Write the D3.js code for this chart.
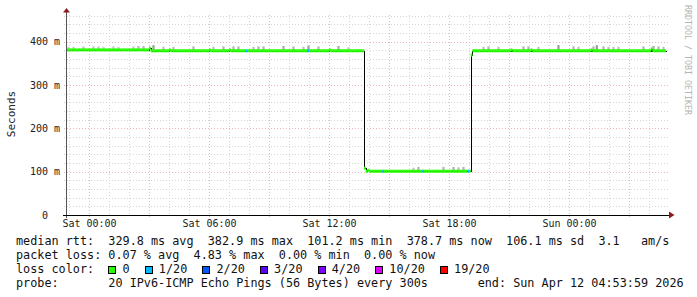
<!DOCTYPE html>
<html><head><meta charset="utf-8">
<script src="https://cdn.jsdelivr.net/npm/d3@7"></script>
<style>
html,body{margin:0;padding:0;background:#fff;}
svg{display:block;}
text{font-family:"DejaVu Sans Mono",monospace;}
</style></head><body>
<svg id="chart" width="697" height="297"></svg>
<script>
// ---------- data ----------
const startTime = Date.UTC(2026,3,10,22,53,59);
const endTime   = Date.UTC(2026,3,12,4,53,59);
const firstStep = Date.UTC(2026,3,10,22,50,0);
const stepMs = 300000;

// median RTT (ms) per 5-minute step, one row per hour
const median = [
381,381,381,381,381,381,381,381,381,381,381,381,
381,381,381,381,381,381,381,381,381,381,381,381,
381,381,381,381,381,381,381,381,381,381,381,381,
381,381,381,381,381,381,381,381,381,381,381,381,
381,381,385,379,379,379,379,379,379,379,379,379,
379,379,381,379,379,379,379,379,379,379,379,379,
379,379,379,379,379,379,379,379,379,379,379,379,
379,379,381,379,379,379,379,379,379,379,379,379,
379,379,381,379,379,379,379,379,379,379,379,379,
379,379,379,379,379,379,379,379,379,379,379,379,
379,379,379,379,379,379,379,379,379,379,379,379,
379,379,379,379,379,379,379,379,379,379,379,379,
379,379,379,379,379,379,379,379,379,379,379,379,
379,379,381,379,379,379,379,379,379,379,379,379,
379,379,379,379,379,379,379,379,379,379,379,108,
101,103,101,101,101,101,101,101,101,101,101,101,
101,101,101,101,101,101,101,101,101,101,101,101,
101,101,101,101,101,101,101,101,101,101,101,101,
101,101,101,101,101,101,101,101,101,101,101,101,
101,101,101,101,101,101,101,101,101,101,101,101,
101,101,101,369,379,379,379,379,379,379,379,379,
379,379,379,379,379,379,379,379,379,379,379,379,
379,379,379,381,379,379,379,379,379,379,379,379,
379,379,379,381,379,379,379,379,379,379,379,379,
379,379,379,379,379,379,379,379,379,379,379,379,
379,379,379,379,379,379,379,379,379,379,379,379,
379,379,379,381,379,379,379,379,379,379,379,379,
379,379,379,379,379,379,379,379,379,379,379,379,
379,379,379,379,379,379,379,379,379,379,379,379,
379,379,379,383,379,379,379,379,379,379,379,379
];

// steps with packet loss (step index, lost pings of 20)
const lossIndex = [108,145,190,214,241];
const lossCount = [1,1,1,1,1];

// smoke: steps where the slowest pings stick out above the median (step index, max ms)
const smokeIndex = [1,4,10,16,19,22,28,31,40,43,46,52,58,64,76,88,94,100,103,112,115,118,130,136,142,145,151,163,169,
  208,211,226,232,235,238,
  250,253,259,274,277,283,295,304,307,316,318,322,325,328,331,346,352,355,358];
const smokeMax = [388,388,389,389,389,388,389,388,389,390,390,392,388,388,389,388,389,389,389,388,389,389,390,389,388,391,389,390,387,
  109,111,111,111,110,111,
  388,389,388,389,389,388,392,389,388,389,392,389,388,388,388,389,390,389,388];

const yTicks = [0,100,200,300,400];
const yTickLabels = ["0\u00a0\u00a0","100 m","200 m","300 m","400 m"];
const xTickTimes = [Date.UTC(2026,3,11,0),Date.UTC(2026,3,11,6),Date.UTC(2026,3,11,12),Date.UTC(2026,3,11,18),Date.UTC(2026,3,12,0)];
const xTickLabels = ["Sat 00:00","Sat 06:00","Sat 12:00","Sat 18:00","Sun 00:00"];

const lossLevels = [0,1,2,3,4,10,19];
const lossLabels = ["0","1/20","2/20","3/20","4/20","10/20","19/20"];
const lossColors = ["#26ff00","#00b8ff","#0059ff","#5e00ff","#7e00ff","#dd00ff","#ff0000"];

const legendRtt  = "median rtt:  329.8 ms avg  382.9 ms max  101.2 ms min  378.7 ms now  106.1 ms sd  3.1   am/s";
const legendLoss = "packet loss: 0.07 % avg  4.83 % max  0.00 % min  0.00 % now";
const legendColorTitle = "loss color:";
const legendProbe = "probe:       20 IPv6-ICMP Echo Pings (56 Bytes) every 300s       end: Sun Apr 12 04:53:59 2026";
const yTitle = "Seconds";
const watermark = "RRDTOOL / TOBI OETIKER";

// ---------- drawing ----------
const nb = s => s.replace(/ /g,"\u00a0");
const svg = d3.select("#chart");
const L = 67, R = 667, T = 15, B = 215;
const x = d3.scaleUtc().domain([startTime,endTime]).range([L,R]);
const y = d3.scaleLinear().domain([0,461.5]).range([B,T]);

const loss = median.map(()=>0);
lossIndex.forEach((k,i)=>{loss[k]=lossCount[i];});
function lossColor(c){let col=lossColors[0];lossLevels.forEach((lv,i)=>{if(c>=lv)col=lossColors[i];});return col;}
const stepStart = k => firstStep + k*stepMs;

const defs = svg.append("defs");
defs.append("clipPath").attr("id","plot").append("rect").attr("x",L).attr("y",T-5).attr("width",R-L).attr("height",B-T+5);

// grid
const grid = svg.append("g").attr("shape-rendering","crispEdges");
const hours = x.ticks(d3.utcHour.every(1));
grid.selectAll("line.vg").data(hours).join("line")
  .attr("x1",d=>Math.round(x(d))+0.5).attr("x2",d=>Math.round(x(d))+0.5)
  .attr("y1",T).attr("y2",d=>d.getUTCHours()%3===0?B+3:B)
  .attr("stroke",d=>d.getUTCHours()%3===0?"#efb4b4":"#d6d6d6")
  .attr("stroke-dasharray","1,2");
const yGrid = d3.range(20,462,20);
grid.selectAll("line.hg").data(yGrid).join("line")
  .attr("y1",d=>Math.round(y(d))+0.5).attr("y2",d=>Math.round(y(d))+0.5)
  .attr("x1",L-3).attr("x2",R+1)
  .attr("stroke",d=>d%100===0?"#efb4b4":"#d6d6d6")
  .attr("stroke-dasharray","1,2");

const plot = svg.append("g").attr("clip-path","url(#plot)");
const stepW = x(stepStart(1))-x(stepStart(0));

// smoke
const shade = d3.scaleLinear().domain([6,13]).range(["#d6d6d6","#9c9c9c"]).clamp(true);
plot.selectAll("rect.smoke").data(smokeIndex).join("rect")
  .attr("x",k=>x(stepStart(k))).attr("width",stepW+0.6)
  .attr("y",(k,i)=>y(smokeMax[i]))
  .attr("height",(k,i)=>Math.max(0,y(median[k])-y(smokeMax[i])))
  .attr("fill",(k,i)=>shade(smokeMax[i]-median[k]));

// median step line (black)
const pts = median.map((v,k)=>[stepStart(k),v]);
pts.push([stepStart(median.length),median[median.length-1]]);
plot.append("path").datum(pts)
  .attr("d",d3.line().x(d=>Math.round(x(d[0]))+0.5).y(d=>Math.round(y(d[1]))+0.5).curve(d3.curveStepAfter))
  .attr("fill","none").attr("stroke","#000").attr("stroke-width",1).attr("shape-rendering","crispEdges");

// loss coloured median band
plot.selectAll("rect.band").data(median).join("rect")
  .attr("x",(v,k)=>x(stepStart(k))).attr("width",stepW+0.15)
  .attr("y",v=>y(v)-1.5).attr("height",3)
  .attr("fill",(v,k)=>lossColor(loss[k]));

// axes
const yAxis = d3.axisLeft(y).tickValues(yTicks).tickFormat((d,i)=>yTickLabels[i]).tickSize(0).tickPadding(7);
const gy = svg.append("g").attr("transform",`translate(${L},0)`).call(yAxis);
gy.select(".domain").remove();
gy.selectAll("text").attr("font-family","DejaVu Sans Mono").attr("font-size",10).attr("fill","#222");

const xAxis = d3.axisBottom(x).tickValues(xTickTimes).tickFormat((d,i)=>xTickLabels[i]).tickSize(0).tickPadding(5);
const gx = svg.append("g").attr("transform",`translate(0,${B})`).call(xAxis);
gx.select(".domain").remove();
gx.selectAll("text").attr("font-family","DejaVu Sans Mono").attr("font-size",10).attr("fill","#222");

svg.append("line").attr("x1",L-0.5).attr("x2",L-0.5).attr("y1",12).attr("y2",B+3).attr("stroke","#555").attr("shape-rendering","crispEdges");
svg.append("line").attr("x1",L-4).attr("x2",R+2).attr("y1",B+0.5).attr("y2",B+0.5).attr("stroke","#000").attr("shape-rendering","crispEdges");
svg.append("path").attr("d",`M${L-4},12.5L${L+3},12.5L${L-0.5},8Z`).attr("fill","#8e1b1b");
svg.append("path").attr("d",`M${R+2},211.5L${R+2},218.5L${R+7.5},215Z`).attr("fill","#8e1b1b");

// titles
svg.append("text").attr("transform","translate(15,114) rotate(-90)").attr("text-anchor","middle")
  .attr("font-size",11).attr("fill","#222").text(yTitle);
svg.append("text").attr("transform","translate(684.5,5) rotate(90)")
  .attr("font-size",8.3).attr("fill","#b4b4b4").text(nb(watermark));

// legend
const fs = 11.8, charW = fs*0.602, lx = 16;
const leg = svg.append("g").attr("font-size",fs).attr("fill","#111");
leg.append("text").attr("x",lx).attr("y",245).text(nb(legendRtt));
leg.append("text").attr("x",lx).attr("y",259).text(nb(legendLoss));
leg.append("text").attr("x",lx).attr("y",273).text(nb(legendColorTitle));
leg.append("text").attr("x",lx).attr("y",287).text(nb(legendProbe));
let cx = lx + 13*charW;
lossLabels.forEach((lab,i)=>{
  leg.append("rect").attr("x",Math.round(cx)+0.5).attr("y",266.5).attr("width",7).attr("height",7)
    .attr("fill",lossColors[i]).attr("stroke","#000").attr("stroke-width",1);
  const tx = cx + 2*charW;
  leg.append("text").attr("x",tx).attr("y",273).text(lab);
  cx = tx + lab.length*charW + 15;
});
</script>
</body></html>
